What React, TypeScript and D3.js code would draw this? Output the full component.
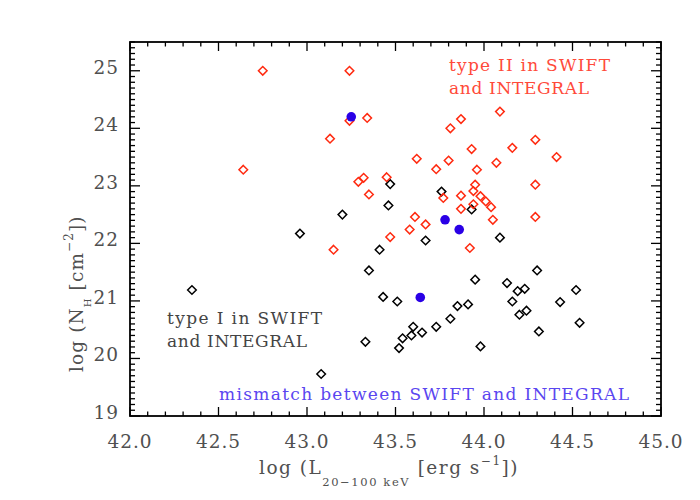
import React from "react";
import * as d3 from "d3";

const typeIX = [43.47, 43.46, 43.20, 42.96, 43.76, 43.93, 42.35, 43.41, 43.35, 43.43, 43.51, 43.33, 43.08, 43.67, 43.60, 43.65, 43.59, 43.54, 43.52, 43.73, 43.81, 44.09, 44.30, 43.95, 44.13, 44.19, 44.23, 44.43, 44.16, 43.91, 43.85, 44.24, 44.20, 44.31, 43.98, 44.52, 44.54];
const typeIY = [23.03, 22.66, 22.50, 22.17, 22.90, 22.59, 21.19, 21.89, 21.53, 21.07, 20.99, 20.29, 19.73, 22.05, 20.55, 20.45, 20.40, 20.35, 20.18, 20.55, 20.69, 22.10, 21.53, 21.37, 21.31, 21.17, 21.21, 20.98, 20.99, 20.94, 20.91, 20.83, 20.76, 20.47, 20.21, 21.19, 20.62];

const typeIIX = [42.75, 43.24, 43.34, 43.24, 43.13, 42.64, 43.32, 43.29, 43.45, 43.35, 43.47, 43.81, 43.62, 43.80, 43.73, 43.77, 43.61, 43.67, 43.58, 44.09, 43.87, 44.29, 44.16, 43.93, 44.41, 44.07, 43.96, 44.29, 43.95, 43.94, 43.87, 43.98, 44.01, 44.04, 43.94, 43.87, 44.05, 44.29, 43.15, 43.92];
const typeIIY = [25.0, 25.0, 24.18, 24.13, 23.82, 23.28, 23.14, 23.07, 23.15, 22.85, 22.11, 24.0, 23.47, 23.44, 23.29, 22.79, 22.46, 22.33, 22.24, 24.29, 24.16, 23.80, 23.66, 23.64, 23.50, 23.40, 23.28, 23.02, 23.02, 22.91, 22.83, 22.82, 22.73, 22.63, 22.68, 22.60, 22.41, 22.46, 21.89, 21.92];

const mismatchX = [43.25, 43.78, 43.86, 43.64];
const mismatchY = [24.20, 22.41, 22.24, 21.06];

const xTickLabels = ["42.0", "42.5", "43.0", "43.5", "44.0", "44.5", "45.0"];
const yTickLabels = ["19", "20", "21", "22", "23", "24", "25"];

const W = 700, H = 500;
const left = 130, right = 661, top = 42, bottom = 416;
const FONT = "'DejaVu Serif', 'Liberation Serif', serif";
const TXT = "#505050";

export default function App() {
  const x = d3.scaleLinear().domain([42, 45]).range([left, right]);
  const y = d3.scaleLinear().domain([19, 25.5]).range([bottom, top]);

  const xMinor = d3.range(0, 31).map((i) => 42 + i * 0.1);
  const yMinor = d3.range(0, 66).map((i) => 19 + i * 0.1);

  const diamond = (cx: number, cy: number, r: number) => {
    const p = d3.path();
    p.moveTo(cx, cy - r);
    p.lineTo(cx + r, cy);
    p.lineTo(cx, cy + r);
    p.lineTo(cx - r, cy);
    p.closePath();
    return p.toString();
  };

  const isMajorX = (v: number) => Math.abs(v * 2 - Math.round(v * 2)) < 1e-6;
  const isMajorY = (v: number) => Math.abs(v - Math.round(v)) < 1e-6;

  return (
    <svg width={W} height={H} style={{ position: "absolute", left: 0, top: 0, background: "#fff" }} fontFamily={FONT}>
      <rect x={0} y={0} width={W} height={H} fill="#fff" />
      {/* ticks */}
      <g stroke="#000" strokeWidth={1.3}>
        {xMinor.map((v, i) => {
          const L = isMajorX(v) ? 9 : 4.5;
          const px = x(v);
          return (
            <g key={"xt" + i}>
              <line x1={px} x2={px} y1={bottom} y2={bottom - L} />
              <line x1={px} x2={px} y1={top} y2={top + L} />
            </g>
          );
        })}
        {yMinor.map((v, i) => {
          const L = isMajorY(v) ? 10 : 5;
          const py = y(v);
          return (
            <g key={"yt" + i}>
              <line x1={left} x2={left + L} y1={py} y2={py} />
              <line x1={right} x2={right - L} y1={py} y2={py} />
            </g>
          );
        })}
      </g>
      <rect x={left} y={top} width={right - left} height={bottom - top} fill="none" stroke="#000" strokeWidth={1.8} />
      {/* tick labels */}
      <g fill={TXT} fontSize={18.5}>
        {xTickLabels.map((t) => (
          <text key={t} x={x(+t)} y={448} textAnchor="middle" letterSpacing={1}>{t}</text>
        ))}
        {yTickLabels.map((t) => (
          <text key={t} x={left - 11} y={y(+t) + 3} textAnchor="end" letterSpacing={1}>{t}</text>
        ))}
      </g>
      {/* axis titles */}
      <text x={259} y={474} fontSize={18.5} fill={TXT} letterSpacing={1.5}>
        log (L<tspan fontSize={11.5} dy={12} letterSpacing={1.6}>20−100 keV</tspan><tspan dy={-12}> [erg s</tspan><tspan fontSize={12} dy={-9}>−1</tspan><tspan dy={9}>])</tspan>
      </text>
      <text transform={`translate(83, 372) rotate(-90)`} fontSize={18.5} fill={TXT} letterSpacing={1.1}>
        log (N<tspan fontSize={10} dy={8}>H</tspan><tspan dy={-8}> [cm</tspan><tspan fontSize={12} dy={-10}>−2</tspan><tspan dy={10}>])</tspan>
      </text>
      {/* points */}
      <g fill="none" stroke="#000" strokeWidth={1.5}>
        {typeIX.map((v, i) => (
          <path key={"k" + i} d={diamond(x(v), y(typeIY[i]), 4.3)} />
        ))}
      </g>
      <g fill="none" stroke="#ff2a10" strokeWidth={1.5}>
        {typeIIX.map((v, i) => (
          <path key={"r" + i} d={diamond(x(v), y(typeIIY[i]), 4.3)} />
        ))}
      </g>
      <g fill="#2a00e6">
        {mismatchX.map((v, i) => (
          <circle key={"b" + i} cx={x(v)} cy={y(mismatchY[i])} r={4.8} />
        ))}
      </g>
      {/* annotations */}
      <g fontSize={17}>
        <text x={449} y={71} fill="#ff4a3a" textLength={161} lengthAdjust="spacing">type II in SWIFT</text>
        <text x={449} y={94} fill="#ff4a3a" textLength={140} lengthAdjust="spacing">and INTEGRAL</text>
        <text x={167} y={324} fill="#444" textLength={155} lengthAdjust="spacing">type I in SWIFT</text>
        <text x={167} y={347} fill="#444" textLength={140} lengthAdjust="spacing">and INTEGRAL</text>
        <text x={219} y={400} fill="#5a46f0" textLength={410} lengthAdjust="spacing">mismatch between SWIFT and INTEGRAL</text>
      </g>
    </svg>
  );
}
